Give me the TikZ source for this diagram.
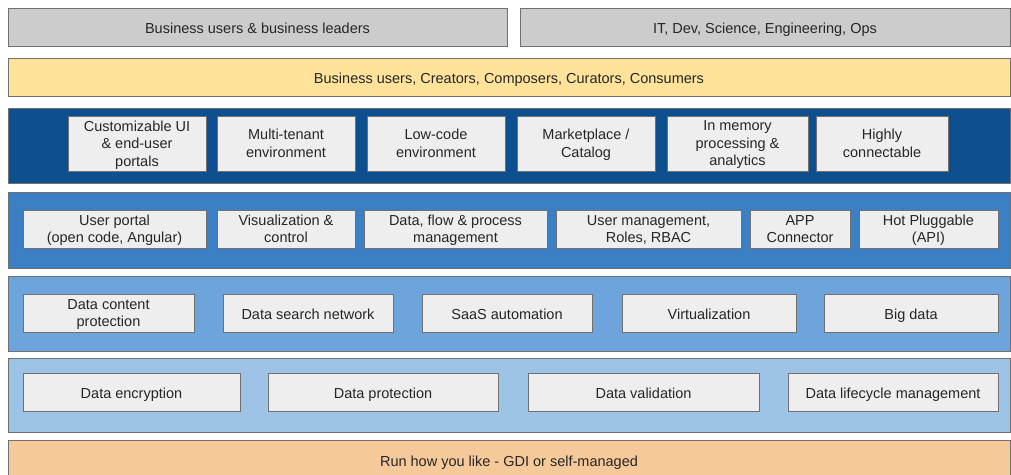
\documentclass[tikz,border=0pt]{standalone}
\usepackage{fontspec}
\setmainfont{Liberation Sans}
\definecolor{grayband}{HTML}{CCCCCC}
\definecolor{yellowband}{HTML}{FFE39A}
\definecolor{darkband}{HTML}{0E4F8F}
\definecolor{midband}{HTML}{3B80C4}
\definecolor{lightband}{HTML}{6CA4DB}
\definecolor{paleband}{HTML}{9DC3E6}
\definecolor{orangeband}{HTML}{F5C999}
\definecolor{cellfill}{HTML}{EEEEEE}
\definecolor{edgegray}{HTML}{707070}
\begin{document}
\begin{tikzpicture}[x=1pt,y=-1pt,
  band/.style={draw=edgegray,line width=1pt},
  cell/.style={draw=edgegray,line width=1pt,fill=cellfill},
  lbl/.style={font=\fontsize{14.5}{17.5}\selectfont,text=black!85,align=center,inner sep=0pt,
    yshift=-2.5pt,execute at begin node=\strut,execute at end node=\strut}]
\useasboundingbox (0,0) rectangle (1011,474);
% row 1
\draw[band,fill=grayband] (8,8) rectangle (507,46);
\node[lbl] (r1a) at (257.5,27) {Business users \& business leaders};
\draw[band,fill=grayband] (520,8) rectangle (1010,46);
\node[lbl] (r1b) at (765,27) {IT, Dev, Science, Engineering, Ops};
% row 2
\draw[band,fill=yellowband] (8,58) rectangle (1010,96);
\node[lbl] (r2) at (509,77) {Business users, Creators, Composers, Curators, Consumers};
% row 3
\draw[band,fill=darkband] (8,108) rectangle (1010,183);
\foreach \a/\b/\t [count=\i] in {68/206/{Customizable UI\\\& end-user\\portals},217/355/{Multi-tenant\\environment},367/505/{Low-code\\environment},517/655/{Marketplace /\\Catalog},667/808/{In memory\\processing \&\\analytics},816/948/{Highly\\connectable}}{
  \draw[cell] (\a,116) rectangle (\b,171);
  \node[lbl] (c3\i) at ({(\a+\b)/2},143.5) {\t};
}
% row 4
\draw[band,fill=midband] (8,192) rectangle (1010,268);
\foreach \a/\b/\t [count=\i] in {23/206/{User portal\\(open code, Angular)},217/355/{Visualization \&\\control},364/547/{Data, flow \& process\\management},556/741/{User management,\\Roles, RBAC},750/850/{APP\\Connector},859/998/{Hot Pluggable\\(API)}}{
  \draw[cell] (\a,210) rectangle (\b,248);
  \node[lbl] (c4\i) at ({(\a+\b)/2},229) {\t};
}
% row 5
\draw[band,fill=lightband] (8,276) rectangle (1010,351);
\foreach \a/\b/\t [count=\i] in {23/194/{Data content\\protection},223/393/{Data search network},422/592/{SaaS automation},622/796/{Virtualization},824/998/{Big data}}{
  \draw[cell] (\a,294) rectangle (\b,332);
  \node[lbl] (c5\i) at ({(\a+\b)/2},313) {\t};
}
% row 6
\draw[band,fill=paleband] (8,358) rectangle (1010,432);
\foreach \a/\b/\t [count=\i] in {23/240/{Data encryption},268/498/{Data protection},528/759/{Data validation},788/998/{Data lifecycle management}}{
  \draw[cell] (\a,373) rectangle (\b,411);
  \node[lbl] (c6\i) at ({(\a+\b)/2},392) {\t};
}
% row 7
\draw[band,fill=orangeband] (8,440) rectangle (1010,482);
\node[lbl] (r7) at (509,460) {Run how you like - GDI or self-managed};
\end{tikzpicture}
\end{document}
